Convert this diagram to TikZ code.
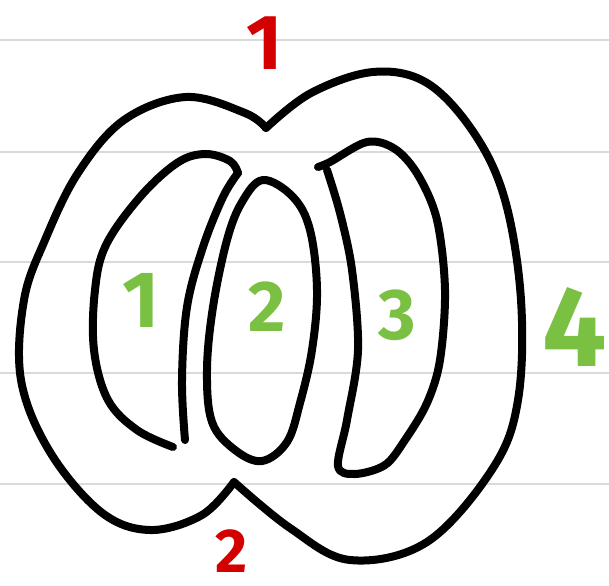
\documentclass[tikz,border=0pt]{standalone}
\usepackage{fontspec}
\setsansfont{Fira Sans}
\usepackage{tikz}
\definecolor{cRed}{HTML}{D40000}
\definecolor{cGreen}{HTML}{7AC143}
\definecolor{cRule}{HTML}{DADADA}

\begin{document}
\begin{tikzpicture}[x=1pt,y=-1pt,
      ink/.style={line width=8pt,line cap=round,line join=round},
      rule/.style={draw=cRule,line width=2pt},
      num/.style={inner sep=0pt,font=\sffamily\bfseries\fontsize{#1pt}{#1pt}\selectfont},
      tagG/.style={num=#1,text=cGreen},
      tagR/.style={num=#1,text=cRed}]
    \useasboundingbox (0,0) rectangle (609,585);
    \fill[white] (0,0) rectangle (609,585);
    % ruled paper
    \foreach \y in {40,152,262,373,484}
      \draw[rule] (0,\y) -- (609,\y);
    % outer outline, right lobe then left lobe
    \draw[ink] plot[smooth,tension=.6] coordinates {(266,128) (311,93) (373,72) (427,83)
      (474,133) (505,200) (521,300) (518,400) (493,468) (427,542) (350,560) (290,528) (234,482)};
    \draw[ink] plot[smooth,tension=.6] coordinates {(234,482) (202,515) (150,530) (101,512)
      (50,452) (21,380) (24,300) (45,240) (78,173) (124,120) (186,97) (245,113) (266,128)};
    % part 1
    \draw[ink] plot[smooth,tension=.6] coordinates {(173,447) (137,430) (108,400) (94,350)
      (95,290) (106,245) (140,197) (177,163) (205,154) (230,161) (238,173)};
    \draw[ink] plot[smooth,tension=.6] coordinates {(238,173) (223,197) (203,247) (187,307)
      (182,380) (185,440)};
    % part 2
    \draw[ink] plot[smooth cycle,tension=.6] coordinates {(263,180) (293,197) (310,230)
      (317,290) (312,350) (300,403) (287,442) (262,461) (235,450) (212,422) (207,370)
      (213,307) (227,240) (242,202)};
    % part 3
    \draw[ink] plot[smooth,tension=.55] coordinates {(318,167) (330,162) (367,142) (395,149)
      (418,175) (437,220) (445,290) (440,360) (427,403) (405,440) (385,465) (355,474)
      (338,466) (347,420) (358,350) (352,270) (340,213) (327,170)};
    % labels
    \node[tagG=80] (g1) at (141,300) {1};
    \node[tagG=72] (g2) at (267,307) {2};
    \node[tagG=72] (g3) at (397,315) {3};
    \node[tagG=114] (g4) at (575,327) {4};
    \node[tagR=78] (r1) at (265,43) {1};
    \node[tagR=62] (r2) at (232,551) {2};
  \end{tikzpicture}
\end{document}
